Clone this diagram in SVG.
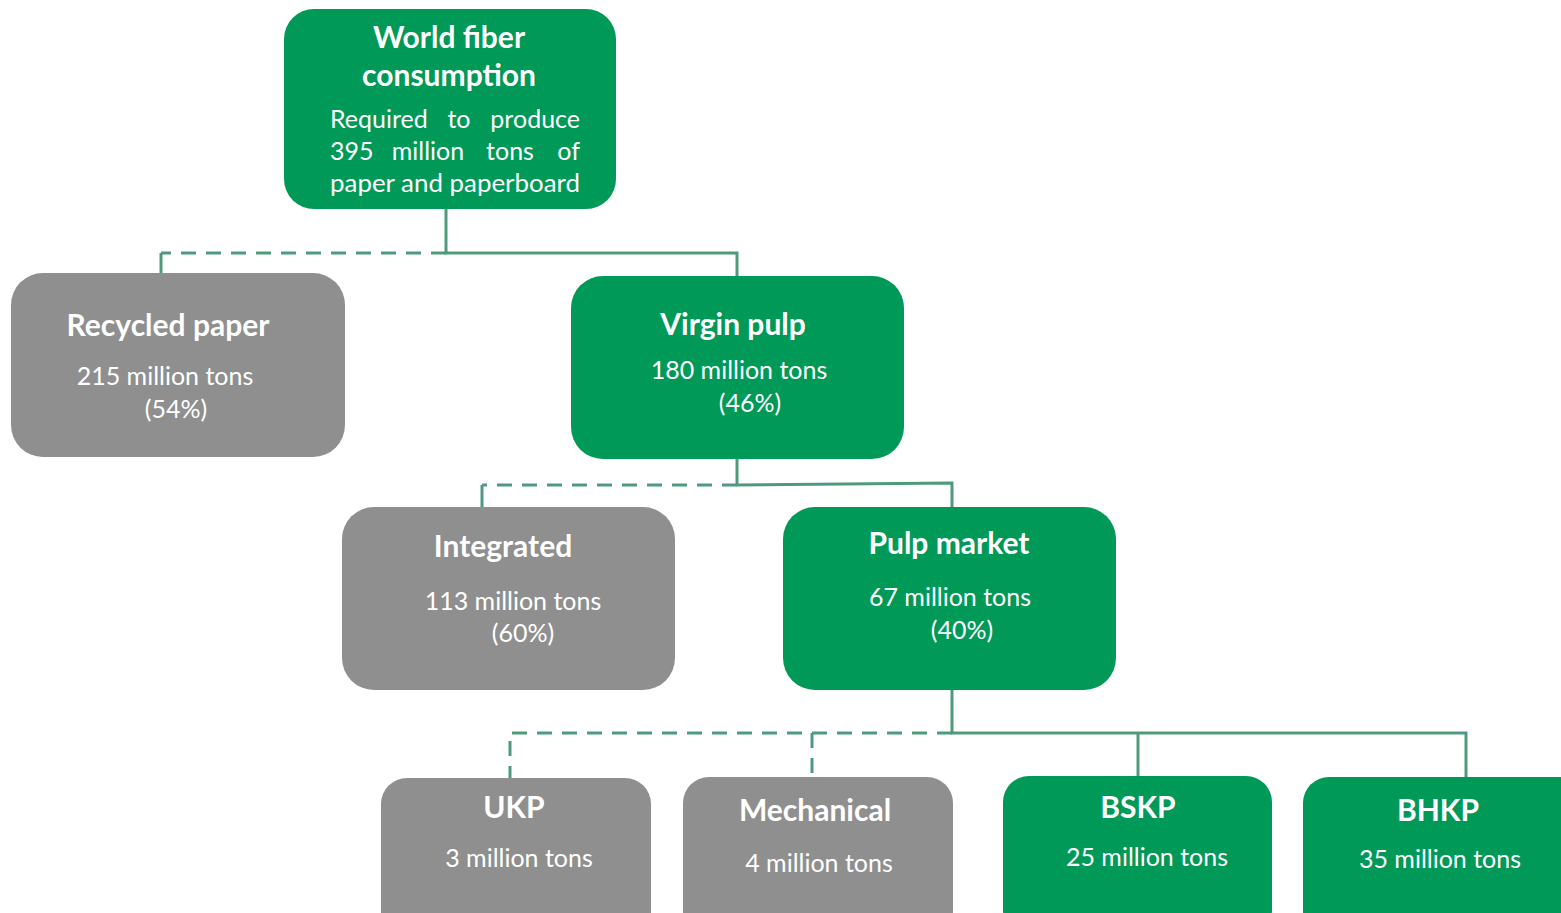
<svg xmlns="http://www.w3.org/2000/svg" width="1561" height="913" viewBox="0 0 1561 913">
  <style>
    .green { fill: #009957; }
    .gray { fill: #8f8f8f; }
    .title { font-family: Lato, "Open Sans", sans-serif; font-weight: bold; font-size: 30px; fill: #ffffff; text-anchor: middle; }
    .body { font-family: Lato, "Open Sans", sans-serif; font-size: 25px; fill: #ffffff; text-anchor: middle; }
    .start { text-anchor: start; }
    .end { text-anchor: end; }
    .link { fill: none; stroke: #4e9b7c; stroke-width: 3; }
    .dash { stroke-dasharray: 15 10; }
  </style>
  <rect width="1561" height="913" fill="#ffffff"/>

  <!-- connectors -->
  <g id="connectors">
    <!-- level 1 -->
    <path class="link" d="M446 209 V253 H737 V277"/>
    <path class="link dash" d="M446 253 H161"/>
    <path class="link" d="M161 253 V274"/>
    <!-- level 2 -->
    <path class="link" d="M737 459 V485 L952 483 V508"/>
    <path class="link dash" d="M737 485 H482"/>
    <path class="link" d="M482 485 V508"/>
    <!-- level 3 -->
    <path class="link" d="M952 690 V733 H1466 V778"/>
    <path class="link" d="M1138 733 V777"/>
    <path class="link dash" d="M952 733 H510 V779"/>
    <path class="link dash" d="M812 733 V778"/>
  </g>

  <g id="world-fiber">
    <rect class="green" x="284" y="9" width="332" height="200" rx="30"/>
    <text class="title" x="449" y="48" font-size="29">World fiber</text>
    <text class="title" x="449" y="86" font-size="29">consumption</text>
    <!-- justified block: words spread across the line -->
    <text class="body start" x="330" y="128">Required</text>
    <text class="body" x="459" y="128">to</text>
    <text class="body end" x="580" y="128">produce</text>
    <text class="body start" x="330" y="160">395</text>
    <text class="body" x="428" y="160">million</text>
    <text class="body" x="510" y="160">tons</text>
    <text class="body end" x="580" y="160">of</text>
    <text class="body start" x="330" y="192" textLength="250" lengthAdjust="spacingAndGlyphs">paper and paperboard</text>
  </g>

  <g id="recycled-paper">
    <rect class="gray" x="11" y="273" width="334" height="184" rx="32"/>
    <text class="title" x="168" y="336">Recycled paper</text>
    <text class="body" x="165" y="385">215 million tons</text>
    <text class="body" x="176" y="418">(54%)</text>
  </g>

  <g id="virgin-pulp">
    <rect class="green" x="571" y="276" width="333" height="183" rx="32"/>
    <text class="title" x="733" y="335">Virgin pulp</text>
    <text class="body" x="739" y="379">180 million tons</text>
    <text class="body" x="750" y="412">(46%)</text>
  </g>

  <g id="integrated">
    <rect class="gray" x="342" y="507" width="333" height="183" rx="32"/>
    <text class="title" x="503" y="557">Integrated</text>
    <text class="body" x="513" y="610">113 million tons</text>
    <text class="body" x="523" y="642">(60%)</text>
  </g>

  <g id="pulp-market">
    <rect class="green" x="783" y="507" width="333" height="183" rx="32"/>
    <text class="title" x="949" y="554">Pulp market</text>
    <text class="body" x="950" y="606">67 million tons</text>
    <text class="body" x="962" y="639">(40%)</text>
  </g>

  <g id="ukp">
    <rect class="gray" x="381" y="778" width="270" height="160" rx="26"/>
    <text class="title" x="514" y="818">UKP</text>
    <text class="body" x="519" y="867">3 million tons</text>
  </g>

  <g id="mechanical">
    <rect class="gray" x="683" y="777" width="270" height="160" rx="26"/>
    <text class="title" x="815" y="821">Mechanical</text>
    <text class="body" x="819" y="872">4 million tons</text>
  </g>

  <g id="bskp">
    <rect class="green" x="1003" y="776" width="269" height="160" rx="26"/>
    <text class="title" x="1138" y="818">BSKP</text>
    <text class="body" x="1147" y="866">25 million tons</text>
  </g>

  <g id="bhkp">
    <rect class="green" x="1303" y="777" width="290" height="160" rx="26"/>
    <text class="title" x="1438" y="821">BHKP</text>
    <text class="body" x="1440" y="868">35 million tons</text>
  </g>
</svg>
